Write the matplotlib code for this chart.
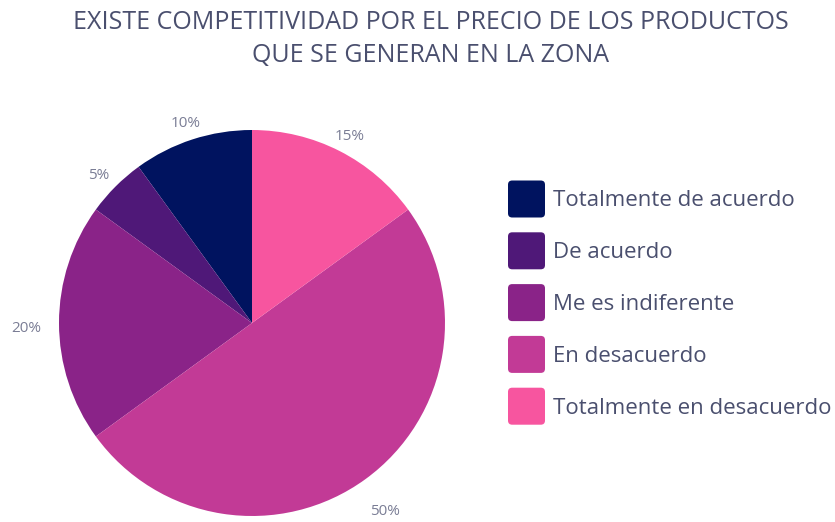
import matplotlib
matplotlib.use("Agg")
import numpy as np
import matplotlib.pyplot as plt
from matplotlib.patches import FancyBboxPatch

categories = ["Totalmente de acuerdo", "De acuerdo", "Me es indiferente",
              "En desacuerdo", "Totalmente en desacuerdo"]
values = [10, 5, 20, 50, 15]
colors = ["#00135f", "#4f1878", "#8a2388", "#c23a96", "#f7559f"]
label_dist = [1.12, 1.12, 1.17, 1.17, 1.12]
title = "EXISTE COMPETITIVIDAD POR EL PRECIO DE LOS PRODUCTOS\nQUE SE GENERAN EN LA ZONA"

W, H = 835, 522
fig = plt.figure(figsize=(W / 100, H / 100), dpi=100)
plt.rcParams['font.family'] = ['Open Sans', 'DejaVu Sans']

cx, cy, r = 252, 323, 193
ax = fig.add_axes([(cx - r) / W, (H - cy - r) / H, 2 * r / W, 2 * r / H])
wedges, texts = ax.pie(values, colors=colors, startangle=90, counterclock=True,
                       labels=[f"{v}%" for v in values], labeldistance=1.12,
                       wedgeprops=dict(linewidth=0),
                       textprops=dict(color="#7a7d95", fontsize=11))
for w, t, d in zip(wedges, texts, label_dist):
    ang = np.deg2rad((w.theta1 + w.theta2) / 2)
    t.set_position((d * np.cos(ang), d * np.sin(ang) - 0.03))
    t.set_ha("center")
    t.set_va("center")
ax.set_xlim(-1, 1)
ax.set_ylim(-1, 1)
ax.set_aspect("equal")
ax.axis("off")

fig.text(431 / W, 1 - 39 / H, title, ha="center", va="center", fontsize=18,
         color="#4a4f6e", linespacing=1.38)

tc = "#4a4f6e"
for i, (cat, col) in enumerate(zip(categories, colors)):
    yc = 199 + i * 51.8
    sz = 37
    box = FancyBboxPatch(((508) / W, (H - yc - sz / 2) / H), sz / W, sz / H,
                         boxstyle="round,pad=0,rounding_size=0.005",
                         transform=fig.transFigure, facecolor=col, edgecolor="none",
                         mutation_aspect=W / H)
    fig.patches.append(box)
    fig.text(553 / W, 1 - (yc + 2) / H, cat, ha="left", va="center", fontsize=16, color=tc)

fig.savefig("out.png", dpi=100)
